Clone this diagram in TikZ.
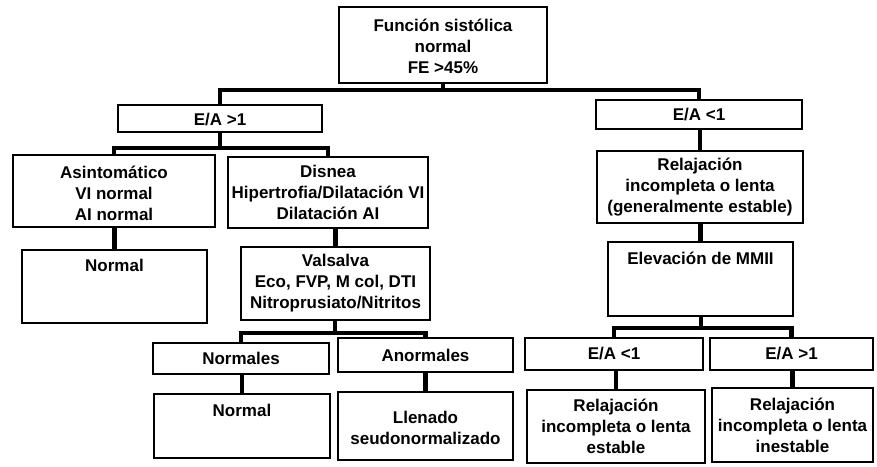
\documentclass[tikz,border=0pt]{standalone}
\usepackage{fontspec}
\setmainfont{Liberation Sans}
\usetikzlibrary{fit}
\begin{document}
\begin{tikzpicture}[x=1pt,y=-1pt,
  box/.style={draw, line width=2.8pt, rectangle, inner sep=0pt},
  txt/.style={align=center, inner sep=0pt, font=\bfseries\fontsize{17}{21}\selectfont},
  conn/.style={line width=4.4pt}]
\fill[white] (0,0) rectangle (877,466);
\useasboundingbox (0,0) rectangle (877,466);

% boxes
\node[box, fit={(339,7) (547,83)}] (top) {};
\node[box, fit={(118,105) (322,132)}] (ea1) {};
\node[box, fit={(596,100) (802,129)}] (ea2) {};
\node[box, fit={(13,155) (215,227)}] (asin) {};
\node[box, fit={(228,157) (428,228)}] (disn) {};
\node[box, fit={(22,250) (207,323)}] (norm1) {};
\node[box, fit={(241,247) (430,320)}] (vals) {};
\node[box, fit={(153,343) (329,374)}] (nors) {};
\node[box, fit={(338,338) (513,372)}] (anor) {};
\node[box, fit={(154,394) (330,458)}] (norm2) {};
\node[box, fit={(338,392) (513,460)}] (llen) {};
\node[box, fit={(597,151) (803,223)}] (rel1) {};
\node[box, fit={(608,242) (793,316)}] (elev) {};
\node[box, fit={(525,338) (703,370)}] (ea3) {};
\node[box, fit={(710,338) (873,370)}] (ea4) {};
\node[box, fit={(527,390) (705,463)}] (rel2) {};
\node[box, fit={(712,388) (873,462)}] (rel3) {};

% texts
\node[txt] (ttop) at ([yshift=-1pt]top.center) {Función sistólica\\normal\\FE >45\%};
\node[txt] (tea1) at ([yshift=-1pt]ea1.center) {E/A >1};
\node[txt] (tea2) at (ea2.center) {E/A <1};
\node[txt] (tasin) at ([yshift=-2pt]asin.center) {Asintomático\\VI normal\\AI normal};
\node[txt] (tdisn) at (disn.center) {Disnea\\Hipertrofia/Dilatación VI\\Dilatación AI};
\node[txt] (tnorm1) at (norm1.north |- 0,265) {Normal};
\node[txt] (tvals) at (vals.center) {Valsalva\\Eco, FVP, M col, DTI\\Nitroprusiato/Nitritos};
\node[txt] (tnors) at (nors.center) {Normales};
\node[txt] (tanor) at (anor.center) {Anormales};
\node[txt] (tnorm2) at (norm2.north |- 0,410) {Normal};
\node[txt] (tllen) at ([yshift=-2pt]llen.center) {Llenado\\seudonormalizado};
\node[txt] (trel1) at (rel1.center) {Relajación\\incompleta o lenta\\(generalmente estable)};
\node[txt] (telev) at (elev.north |- 0,258) {Elevación de MMII};
\node[txt] (tea3) at (ea3.center) {E/A <1};
\node[txt] (tea4) at (ea4.center) {E/A >1};
\node[txt] (trel2) at (rel2.center) {Relajación\\incompleta o lenta\\estable};
\node[txt] (trel3) at (rel3.center) {Relajación\\incompleta o lenta\\inestable};

% connectors
\coordinate (j1) at (443,90);
\draw[conn] (top.south) -- (j1);
\draw[conn] (ea1.north) |- (j1) -| (ea2.north);
\coordinate (j2) at (220,148);
\draw[conn] (ea1.south) -- (j2);
\draw[conn] (asin.north) |- (j2) -| (disn.north);
\draw[conn] (norm1.north) -- (norm1.north |- asin.south);
\draw[conn] (vals.north) -- (vals.north |- disn.south);
\coordinate (j3) at (335,333);
\draw[conn] (vals.south -| j3) -- (j3);
\draw[conn] (nors.north) |- (j3) -| (anor.north);
\draw[conn] (norm2.north) -- (norm2.north |- nors.south);
\draw[conn] (llen.north) -- (anor.south);
\draw[conn] (rel1.north) -- (rel1.north |- ea2.south);
\draw[conn] (elev.north) -- (elev.north |- rel1.south);
\coordinate (j4) at (701,328);
\draw[conn] (elev.south -| j4) -- (j4);
\draw[conn] (ea3.north) |- (j4) -| (ea4.north);
\draw[conn] (rel2.north) -- (rel2.north |- ea3.south);
\draw[conn] (rel3.north) -- (rel3.north |- ea4.south);
\end{tikzpicture}
\end{document}
